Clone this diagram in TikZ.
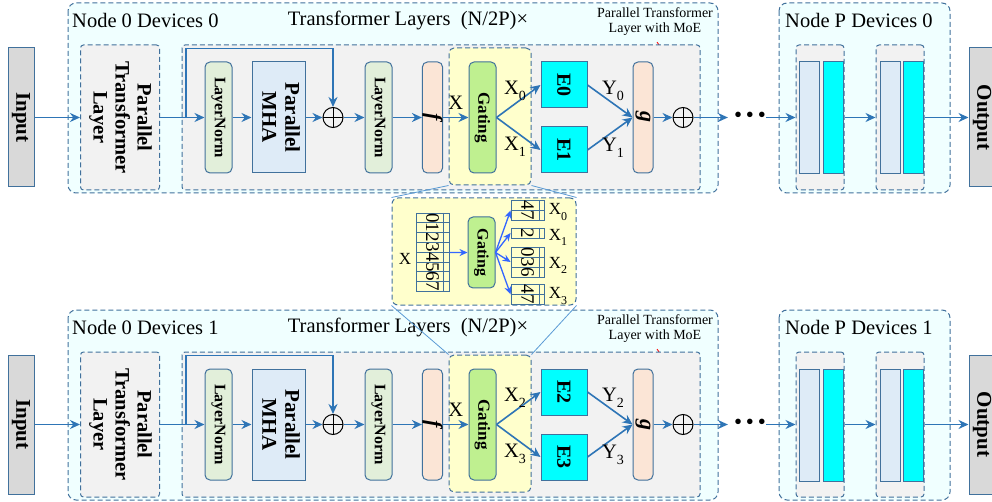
\documentclass[tikz,border=0pt]{standalone}
\usepackage{fontspec}
\setmainfont{Liberation Serif}
\usepackage{graphicx}
\usetikzlibrary{calc,arrows.meta}

\definecolor{edgeblue}{RGB}{65,113,156}
\definecolor{arrblue}{RGB}{46,117,182}
\definecolor{zblue}{RGB}{51,102,255}
\definecolor{linkblue}{RGB}{91,155,213}
\definecolor{devcyan}{RGB}{240,255,255}
\definecolor{boxgray}{RGB}{242,242,242}
\definecolor{iogray}{RGB}{217,217,217}
\definecolor{lngreen}{RGB}{226,239,218}
\definecolor{mhablue}{RGB}{222,235,247}
\definecolor{fgpeach}{RGB}{251,229,214}
\definecolor{gateyellow}{RGB}{255,255,204}
\definecolor{gategreen}{RGB}{191,240,144}
\definecolor{expcyan}{RGB}{0,255,255}

\newcommand{\vtxt}[1]{\rotatebox{-90}{#1}}
\newcommand{\fsz}[1]{\fontsize{#1}{#1}\selectfont}
\newcommand{\subx}[3][14]{#2\raisebox{-0.3em}{\fsz{#1}#3}}

\tikzset{
  dashbox/.style={draw=edgeblue,line width=1pt,dash pattern=on 5pt off 3pt,rounded corners=3pt,inner sep=0pt},
  plainbox/.style={draw=edgeblue,line width=1pt,inner sep=0pt},
  iobox/.style={plainbox,fill=iogray,minimum width=26pt,minimum height=139pt,font=\fsz{21}\bfseries},
  lnbox/.style={plainbox,rounded corners=5pt,fill=lngreen,minimum width=27pt,minimum height=111pt,font=\fsz{16}\bfseries},
  fgbox/.style={plainbox,rounded corners=5pt,fill=fgpeach,minimum width=20pt,minimum height=111pt,font=\fsz{22}\bfseries\itshape},
  gatebox/.style={plainbox,rounded corners=5pt,fill=gategreen,minimum width=27pt,font=\fsz{17}\bfseries},
  expbox/.style={plainbox,fill=expcyan,minimum width=46pt,minimum height=46pt,font=\fsz{20}\bfseries},
  thinbar/.style={plainbox,minimum width=20pt,minimum height=112pt},
  sumnode/.style={circle,draw,line width=1pt,minimum size=20pt,inner sep=0pt,
    path picture={\draw[line width=1pt] (path picture bounding box.north)--(path picture bounding box.south)
      (path picture bounding box.west)--(path picture bounding box.east);}},
  arr/.style={draw=arrblue,line width=1.6pt,-{Stealth[length=10pt,width=9pt]}},
  zarr/.style={draw=zblue,line width=1.3pt,-{Stealth[length=8pt,width=7pt]}},
  digitcell/.style={plainbox,line width=0.8pt,minimum width=33pt,minimum height=9.8pt,font=\fsz{19}},
  lbl/.style={inner sep=0pt,font=\fsz{20.5}}
}

\begin{document}
\begin{tikzpicture}[x=1pt,y=-1pt]
\useasboundingbox (0,0) rectangle (992,502);
% two device rows
\foreach \r/\dy/\dv/\ea/\eb in {0/0/0/0/1,1/307/1/2/3}{
\begin{scope}[shift={(0,\dy)}]
\draw[dashbox,rounded corners=8pt,fill=devcyan] (68,3) rectangle (718,193);
\draw[dashbox,rounded corners=8pt,fill=devcyan] (779,3) rectangle (950,193);
\node[lbl,anchor=west] (dev\r) at (72,20) {Node 0 Devices \dv};
\node[lbl] (tl\r) at (408,20) {Transformer Layers\ \ (N/2P)×};
\node[lbl,anchor=west] (devp\r) at (785,20) {Node P Devices \dv};
\node[inner sep=0pt,font=\fontsize{14}{15}\selectfont,align=center] (moe\r) at (655,22) {Parallel Transformer\\Layer with MoE};
\draw[red,line width=0.8pt] (657,42) -- (668,58);
\node[iobox] (in\r) at (21,117.5) {\vtxt{Input}};
\node[dashbox,fill=boxgray,minimum width=79pt,minimum height=145pt,font=\fontsize{20.5}{22}\selectfont\bfseries] (ptl\r) at (120,117.5)
  {\vtxt{\begin{tabular}{@{}c@{}}Parallel\\Transformer\\Layer\end{tabular}}};
\draw[dashbox,fill=boxgray] (182,45) rectangle (700,190);
\node[dashbox,fill=gateyellow,rounded corners=5pt,minimum width=82pt,minimum height=137pt] (gy\r) at (490,116.5) {};
\node[lnbox] (lna\r) at (218.5,117.5) {\vtxt{LayerNorm}};
\node[plainbox,fill=mhablue,minimum width=53pt,minimum height=111pt,font=\fontsize{21}{23}\selectfont\bfseries] (mha\r) at (278.5,117.5)
  {\vtxt{\begin{tabular}{@{}c@{}}Parallel\\MHA\end{tabular}}};
\node[sumnode] (suma\r) at (333,117.5) {};
\node[lnbox] (lnb\r) at (378.5,117.5) {\vtxt{LayerNorm}};
\node[fgbox] (f\r) at (432.5,117.5) {\vtxt{f}};
\node[gatebox,minimum height=111pt] (gate\r) at (482.5,117.5) {\vtxt{Gating}};
\node[expbox] (ea\r) at (564,85) {\vtxt{E\ea}};
\node[expbox] (eb\r) at (564,150) {\vtxt{E\eb}};
\node[fgbox] (g\r) at (643,117.5) {\vtxt{g}};
\node[sumnode] (sumb\r) at (683,117.5) {};
\node[inner sep=0pt,font=\fsz{23}] (dots\r) at (750,117.5) {\textbullet\,\textbullet\,\textbullet};
\node[dashbox,fill=boxgray,minimum width=48pt,minimum height=145pt] (pa\r) at (820,117.5) {};
\node[thinbar,fill=mhablue] (paa\r) at (809,118) {};
\node[thinbar,fill=expcyan] (pab\r) at (833,118) {};
\node[dashbox,fill=boxgray,minimum width=48pt,minimum height=145pt] (pb\r) at (900,117.5) {};
\node[thinbar,fill=mhablue] (pba\r) at (890,118) {};
\node[thinbar,fill=expcyan] (pbb\r) at (913.5,118) {};
\node[iobox] (out\r) at (982,117.5) {\vtxt{Output}};
\coordinate (sp\r) at (186,117.5);
\draw[arr] (in\r) -- (ptl\r);
\draw[arr] (ptl\r) -- (lna\r);
\draw[arr] (sp\r) -- ++(0,-69) -| (suma\r.north);
\draw[arr] (lna\r) -- (mha\r);
\draw[arr] (mha\r) -- (suma\r);
\draw[arr] (suma\r) -- (lnb\r);
\draw[arr] (lnb\r) -- (f\r);
\draw[arr] (f\r) -- node[lbl,above=7pt] (xl\r) {X} (gate\r);
\draw[arr] (gate\r.east) -- (ea\r.west);
\draw[arr] (gate\r.east) -- (eb\r.west);
\draw[arr] (ea\r.east) -- (g\r.west);
\draw[arr] (eb\r.east) -- (g\r.west);
\draw[arr] (g\r) -- (sumb\r);
\draw[arr,shorten >=6pt] (sumb\r) -- (dots\r);
\draw[arr] (dots\r.east) -- (pa\r.west);
\draw[arr] (pa\r) -- (pb\r);
\draw[arr] (pb\r) -- (out\r);
\node[lbl] (xa\r) at (515,91) {\subx{X}{\ea}};
\node[lbl] (xb\r) at (515,147) {\subx{X}{\eb}};
\node[lbl] (ya\r) at (613,91) {\subx{Y}{\ea}};
\node[lbl] (yb\r) at (613,148) {\subx{Y}{\eb}};
\end{scope}
}
% zoomed gating
\node[dashbox,fill=gateyellow,rounded corners=6pt,minimum width=184pt,minimum height=107pt] (zbox) at (484,251.5) {};
\draw[linkblue,line width=0.8pt] (gy0.south west) -- (zbox.north west) (gy0.south east) -- (zbox.north east)
  (zbox.south west) -- (gy1.north west) (zbox.south east) -- (gy1.north east);
\node[lbl,font=\fsz{17}] (zx) at (405,259) {X};
\foreach \d in {0,...,7}
  \node[digitcell] (zc\d) at (432.5,{217.9+\d*9.8}) {\vtxt{\d}};
\draw[edgeblue,line width=0.8pt] (443,213) -- (443,291.4);
\node[gatebox,minimum height=71pt,font=\fsz{16}\bfseries] (zgate) at (481.5,252.5) {\vtxt{Gating}};
\draw[zarr] (zc3.south east) -- (zgate.west);
\foreach \d/\yy [count=\k] in {4/205,7/215,2/233,0/252,3/262,6/272,4/289,7/299}
  \node[digitcell,minimum height=10pt] (zo\k) at (527.5,\yy) {\vtxt{\d}};
\foreach \ya/\yb in {200/220,228/238,247/277,284/304}
  \draw[edgeblue,line width=0.8pt] (539,\ya) -- (539,\yb);
\draw[zarr] (zgate.east) -- (zo1.south west);
\draw[zarr] (zgate.east) -- (zo3.west);
\draw[zarr] (zgate.east) -- (zo5.west);
\draw[zarr] (zgate.east) -- (zo7.south west);
\node[lbl,font=\fsz{17}] (zl0) at (558,212) {\subx[12]{X}{0}};
\node[lbl,font=\fsz{17}] (zl1) at (558,237) {\subx[12]{X}{1}};
\node[lbl,font=\fsz{17}] (zl2) at (558,265) {\subx[12]{X}{2}};
\node[lbl,font=\fsz{17}] (zl3) at (558,296) {\subx[12]{X}{3}};
\end{tikzpicture}
\end{document}
